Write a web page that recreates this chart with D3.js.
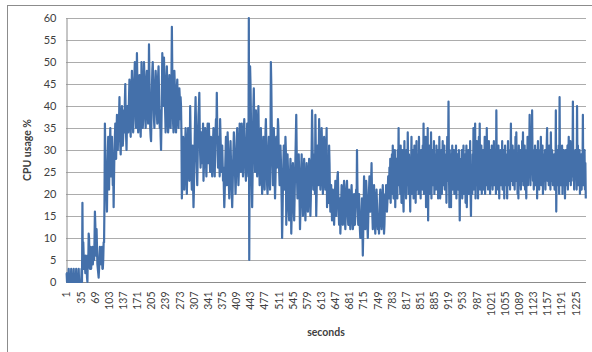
<!DOCTYPE html>
<html>
<head>
<meta charset="utf-8">
<script src="https://cdn.jsdelivr.net/npm/d3@7"></script>
<style>
  html, body { margin: 0; padding: 0; background: #fff; }
  svg { display: block; }
  text { font-family: Lato, "Open Sans", "Liberation Sans", sans-serif; fill: #404040; }
</style>
</head>
<body>
<svg id="chart" width="592" height="352"></svg>
<script>
// CPU usage (%) sampled once per second
const cpuStartup = [
  2,2,0,0,0,0,3,0,0,0,0,0,3,0,0,0,0,0,3,0,0,0,0,0,3,
  0,0,0,0,0,3,0,0,0,0,0,0,3,0,18,3,9,6,3,6,4,2,6,3,5,
  1,0,6,4,11,10,5,3,8,7,3,6,5,8,4,6,7,5,9,16,13,6,9,12,8,
  4,3,2,1,3,6,8,5,7,4,6,8,3,3,5,9,9,18,36,30,22,27,20,16,25
];
const cpuPeak = [
  29,33,26,21,27,31,35,28,24,30,33,27,22,26,17,24,30,33,36,31,28,34,38,33,30,
  35,32,37,42,36,31,29,34,38,40,35,31,33,37,39,34,41,45,38,33,30,36,40,37,34,
  38,42,46,40,35,33,39,44,48,41,36,34,40,45,47,50,43,37,35,42,52,46,39,34,38,
  43,47,41,36,33,38,50,45,40,35,37,43,50,47,42,38,35,40,46,48,44,39,36,42,54,
  47,40,35,33,32,38,44,48,50,46,41,37,35,40,45,48,46,42,38,36,41,47,49,44,37,
  35,39,33,30,36,43,52,49,44,40,51,47,42,38,34,40,46,49,44,37,34,36,42,47,43,
  39,35,40,46,58,48,41,36,34,39,48,45,40,36,34,38,44,46,41,37,35,40,44,42,37
];
const cpuMid = [
  42,40,34,19,22,28,33,30,25,21,27,31,35,29,24,20,26,32,35,31,27,23,29,40,34,
  28,24,21,26,31,22,17,21,27,33,38,42,36,29,25,22,28,34,38,40,43,35,29,26,31,
  34,30,27,32,36,23,26,30,33,35,31,27,24,29,33,36,31,27,36,32,28,25,29,33,30,
  26,24,28,32,35,31,27,24,30,34,37,33,43,36,29,26,30,33,28,24,37,33,29,25,28,
  31,27,23,26,21,17,20,25,29,33,27,22,26,34,31,26,22,19,24,28,32,28,24,20,17,
  21,26,30,34,31,27,24,20,23,28,33,35,31,26,22,25,30,36,33,28,25,31,36,32,27,
  24,29,34,37,33,28,25,23,27,31,36,32,28,24,60,5,30,49,45,38,28,22,17,24,33,
  40,44,36,30,25,33,39,35,29,24,28,36,40,33,27,22,26,31,35,30,24,20,23,28,33,
  30,25,21,27,34,37,32,26,22,20,24,29,33,28,25,21,30,50,45,36,30,26,22,29,35
];
const cpuDip = [
  31,24,19,23,28,33,30,26,32,37,35,29,25,22,27,31,28,23,18,10,15,22,27,31,26,
  21,28,33,30,13,18,24,29,26,21,16,14,19,24,28,25,11,15,20,24,27,22,17,14,19,
  24,28,33,38,30,23,19,22,26,29,24,18,12,16,21,26,29,24,19,15,20,25,28,23,17,
  14,18,23,27,25,20,16,19,24,28,26,21,15,19,25,30,39,33,26,21,24,29,25,20,38,
  30,15,20,26,31,27,22,29,37,32,26,21,24,30,35,31,25,20,23,28,33,29,24,21,26,
  30,35,17,24,21,18,25,31,27,20,16,19,22,18,14,17,21,19,16,13,17,20,23,19,15,
  18,21,24,25,20,16,13,15,19,11,14,18,22,19,15,13,17,21,23,18,14,12,16,20,22,
  23,19,15,13,17,21,18,14,12,16,20,22,19,15,12,13,17,20,16,13,15,19,21,17,30,
  22,16,13,17,20,15,12,10,14,10,16,19,13,6,11,17,24,20,15,12,18,23,21,16,13,
  10,14,18,21,24,20,16,19,23,27,21,15,12,16,19,22,17,13,11,15,19,21,18,14,12,
  15,13,11,16,19,21,17,14,12,15,19,22,18,14,11,13,17,20,18,22,19,16,18,21,24
];
const cpuSteady = [
  23,19,26,21,28,18,25,22,29,20,31,24,19,27,22,30,17,26,21,28,24,19,30,23,35,
  22,29,25,20,31,24,18,27,23,30,19,16,26,32,21,28,24,19,30,25,22,34,27,20,29,
  24,21,16,28,25,33,20,27,23,30,19,26,31,22,28,18,25,32,21,27,24,29,20,33,26,
  22,28,19,30,24,27,21,31,23,36,20,26,29,22,33,17,25,30,21,35,14,27,24,31,20,
  28,23,34,19,26,30,22,28,25,32,20,27,24,29,21,31,26,23,30,19,28,24,33,22,19,
  27,23,30,20,26,32,22,28,25,31,21,27,24,29,18,26,33,23,28,41,27,17,30,24,22,
  17,29,25,31,21,27,23,30,20,26,28,22,31,19,27,24,29,21,26,30,23,14,25,20,28,
  25,30,19,27,23,31,20,28,22,29,18,26,31,17,24,29,21,30,20,27,24,32,20,15,26,
  26,20,29,23,35,21,27,24,36,19,28,25,32,22,30,19,26,33,24,36,21,29,25,31,20,
  27,23,30,21,28,25,33,20,26,31,22,35,24,29,21,27,32,23,28,20,30,25,22,31,26,
  21,29,24,32,22,27,25,30,20,39,26,23,29,21,31,25,19,28,23,30,22,27,24,32,21,
  28,23,30,19,26,31,22,27,24,29,19,26,32,22,28,24,30,21,27,36,23,29,25,31,22,
  28,24,30,21,27,33,23,34,26,29,20,25,19,31,22,28,24,30,21,27,25,32,23,34,22,
  29,25,31,21,27,23,19,30,25,33,22,28,24,30,38,26,22,29,25,31,39,27,23,30,21,
  28,24,31,22,27,25,30,19,26,32,23,28,21,30,25,27,33,22,29,24,31,20,27,23,29,
  25,30,21,28,24,31,35,23,29,26,22,31,24,28,21,34,27,23,30,25,22,28,24,29,21,
  27,23,39,16,26,30,22,28,24,31,20,42,25,29,22,27,23,31,20,28,25,30,22,27,19,
  26,30,22,28,24,31,21,27,33,23,29,25,32,22,28,24,30,26,41,23,29,21,27,25,30,
  24,28,21,40,26,31,22,28,25,30,20,27,23,29,21,26,24,38,22,28,25,30,21,27,19
];

const xTickLabels = [1,35,69,103,137,171,205,239,273,307,341,375,409,443,477,511,545,579,
  613,647,681,715,749,783,817,851,885,919,953,987,1021,1055,1089,1123,1157,1191,1225];
const yTickValues = [0,5,10,15,20,25,30,35,40,45,50,55,60];
const xTitle = "seconds";
const yTitle = "CPU usage %";

const cpu = [].concat(cpuStartup, cpuPeak, cpuMid, cpuDip, cpuSteady);
const seconds = cpu.map((_, i) => i + 1);

const svg = d3.select("#chart");
const W = 592, H = 352;
const plot = { left: 66, right: 586, top: 18, bottom: 282 };

// outer chart frame
svg.append("rect")
  .attr("x", 7.5).attr("y", 5.5)
  .attr("width", W).attr("height", H)
  .attr("fill", "#fff").attr("stroke", "#8c8c8c").attr("stroke-width", 1);

const x = d3.scalePoint().domain(seconds).range([plot.left, plot.right]).padding(0.5);
const y = d3.scaleLinear().domain([0, 60]).range([plot.bottom, plot.top]);

// horizontal gridlines
svg.append("g")
  .selectAll("line")
  .data(yTickValues.filter(v => v > 0))
  .join("line")
  .attr("x1", plot.left).attr("x2", plot.right)
  .attr("y1", d => Math.round(y(d)) + 0.5).attr("y2", d => Math.round(y(d)) + 0.5)
  .attr("stroke", "#acacac").attr("stroke-width", 1);

// y axis
const yAxis = svg.append("g")
  .attr("transform", `translate(${plot.left + 0.5},0)`)
  .call(d3.axisLeft(y).tickValues(yTickValues).tickSize(0).tickPadding(10));
yAxis.select(".domain").attr("stroke", "#8c8c8c");
yAxis.selectAll("text").attr("font-size", 11).attr("fill", "#404040")
  .style("font-family", "Lato, 'Open Sans', sans-serif");

// x axis
const xAxis = svg.append("g")
  .attr("transform", `translate(0,${plot.bottom + 0.5})`)
  .call(d3.axisBottom(x).tickValues(xTickLabels).tickSize(0));
xAxis.select(".domain").attr("stroke", "#8c8c8c").attr("d", `M${plot.left},0H${plot.right}`);
xAxis.selectAll("text")
  .attr("transform", "rotate(-90)")
  .attr("x", -9).attr("y", 0).attr("dy", "0.35em")
  .attr("text-anchor", "end")
  .attr("font-size", 10.5).attr("fill", "#404040")
  .style("font-family", "Lato, 'Open Sans', sans-serif");

// CPU usage line
const line = d3.line()
  .x((d, i) => x(seconds[i]))
  .y(d => y(d));
svg.append("path")
  .datum(cpu)
  .attr("d", line)
  .attr("fill", "none")
  .attr("stroke", "#4470aa")
  .attr("stroke-width", 2.2)
  .attr("stroke-linejoin", "round");

// axis titles
svg.append("text")
  .attr("x", 326).attr("y", 336)
  .attr("text-anchor", "middle")
  .attr("font-size", 10.5).attr("font-weight", "bold").attr("fill", "#000")
  .text(xTitle);
svg.append("text")
  .attr("transform", `translate(31,150) rotate(-90)`)
  .attr("text-anchor", "middle")
  .attr("font-size", 10.5).attr("font-weight", "bold").attr("fill", "#000")
  .text(yTitle);
</script>
</body>
</html>
